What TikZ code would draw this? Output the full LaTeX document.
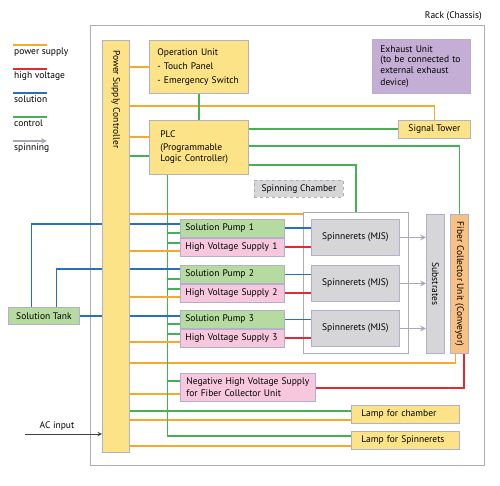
\documentclass[tikz,border=0pt]{standalone}
\usepackage{fontspec}
\setmainfont{PT Sans}
\usepackage{xcolor}
\usetikzlibrary{shapes,arrows,positioning,calc,backgrounds}

\definecolor{yellowc}{HTML}{FDE387}
\definecolor{greenc}{HTML}{B6DBA0}
\definecolor{pinkc}{HTML}{F7C7DD}
\definecolor{grayc}{HTML}{D6D6D8}
\definecolor{purplec}{HTML}{C5AED6}
\definecolor{orangec}{HTML}{F8C184}
\definecolor{boxline}{HTML}{B3B0CC}
\definecolor{pwrc}{HTML}{F7A928}
\definecolor{ctlc}{HTML}{45B152}
\definecolor{solc}{HTML}{2A70B6}
\definecolor{hvc}{HTML}{E02A36}
\definecolor{spnc}{HTML}{A8A9B8}
\definecolor{rackc}{HTML}{ADADAD}

\begin{document}
\begin{tikzpicture}[
    x=1pt, y=-1pt,
    font=\fontsize{9.5}{11.5}\selectfont,
    box/.style={rectangle, draw=boxline, line width=0.8pt, anchor=north west, inner xsep=5pt, inner ysep=0pt, align=center},
    pump/.style={box, fill=greenc, minimum width=104pt, minimum height=18pt, text width=94pt, align=left},
    hvbox/.style={pump, fill=pinkc},
    spinbox/.style={box, fill=grayc, minimum width=88pt, minimum height=36pt},
    lamp/.style={box, fill=yellowc, inner xsep=10pt, text width=88pt, minimum height=18pt, align=left},
    pwr/.style={draw=pwrc, line width=1.8pt},
    ctl/.style={draw=ctlc, line width=1.8pt},
    sol/.style={draw=solc, line width=1.8pt},
    hvl/.style={draw=hvc, line width=1.8pt},
    spn/.style={->, >=stealth, draw=spnc, line width=1.6pt},
    acl/.style={->, >=stealth, draw=black!75, line width=1pt}
]
\useasboundingbox (0,0) rectangle (500,486);

% Rack and chamber
\begin{scope}[on background layer]
\node[box, draw=rackc, line width=1pt, minimum width=394pt, minimum height=440pt,
      label={[anchor=south east, inner sep=0pt, xshift=-3pt, yshift=4pt]north east:Rack (Chassis)}] (rack) at (90,25) {};
\node[box, draw=rackc, line width=1pt, minimum width=105pt, minimum height=141pt] (chamber) at (303,212) {};
\end{scope}

% Legend
\foreach \st/\txt [count=\i] in {pwr/power supply, hvl/high voltage, sol/solution, ctl/control, spn/spinning} {
  \node[anchor=north west, inner sep=0pt] (lg\i) at (14,24*\i+23.5) {\txt};
  \draw[\st] ([xshift=-1pt, yshift=2.5pt]lg\i.north west) -- ++(34,0);
}

% Control side
\node[box, fill=yellowc, minimum width=27pt, minimum height=412pt] (psc) at (102,40) {};
\node[rotate=-90, anchor=west, inner sep=0pt] (psctext) at ([yshift=-10pt]psc.north) {Power Supply Controller};
\node[box, fill=yellowc, inner xsep=8pt, text width=83pt, minimum height=53pt, align=left] (opunit) at (149,40)
  {Operation Unit\\[2.5pt]- Touch Panel\\[2.5pt]- Emergency Switch};
\node[box, fill=yellowc, inner xsep=11pt, text width=77pt, minimum height=54pt, align=left] (plc) at (149,120)
  {PLC\\[1.5pt](Programmable\\Logic Controller)};
\node[box, fill=purplec, inner xsep=8pt, text width=82pt, minimum height=54pt, align=left] (exhaust) at (372,39)
  {\fontsize{9.5}{10.8}\selectfont Exhaust Unit\\(to be connected to\\external exhaust\\device)};
\node[box, fill=yellowc, minimum width=72pt, minimum height=18pt] (sigtower) at (398,120) {Signal Tower};
\node[box, fill=grayc, draw=rackc, dashed, minimum width=89pt, minimum height=17pt] (chlabel) at (254,180) {Spinning Chamber};
\node[box, fill=greenc, minimum width=71pt, minimum height=17pt] (tank) at (8,307) {Solution Tank};

% Spinning line
\node[pump] (pumpA) at (180,219) {Solution Pump 1};
\node[hvbox, below=0pt of pumpA] (hvA) {High Voltage Supply 1};
\node[pump] (pumpB) at (180,265) {Solution Pump 2};
\node[hvbox, below=0pt of pumpB] (hvB) {High Voltage Supply 2};
\node[pump] (pumpC) at (180,310) {Solution Pump 3};
\node[hvbox, below=0pt of pumpC] (hvC) {High Voltage Supply 3};
\node[spinbox] (spinA) at (311,219) {Spinnerets (MJS)};
\node[spinbox] (spinB) at (311,265) {Spinnerets (MJS)};
\node[spinbox] (spinC) at (311,310) {Spinnerets (MJS)};
\node[box, fill=grayc, minimum width=18pt, minimum height=139pt, label={[rotate=-90]center:Substrates}] (subst) at (426,214) {};
\node[box, fill=orangec, minimum width=18pt, minimum height=139pt, label={[rotate=-90]center:Fiber Collector Unit (Conveyor)}] (fcu) at (450,214) {};
\node[box, fill=pinkc, inner xsep=6pt, text width=123pt, minimum height=28pt, align=left] (neghv) at (180,373)
  {Negative High Voltage Supply\\for Fiber Collector Unit};
\node[lamp] (lampA) at (351,405) {Lamp for chamber};
\node[lamp] (lampB) at (351,431) {Lamp for Spinnerets};

% AC input
\coordinate (acin) at (25,434);
\node (aclabel) at (57,426) {AC input};

% Connections
\begin{scope}[on background layer]
% power supply
\draw[pwr] (opunit.west) -- (opunit.west -| psc.east);
\draw[pwr] ($(psc.east |- plc.north)+(0,-14)$) -| (sigtower.north);
\draw[pwr] ($(plc.north west)+(0,17)$) coordinate (t) -- (t -| psc.east);
\draw[pwr] ($(chamber.north west)+(0,2)$) coordinate (t) -- (t -| psc.east);
\draw[pwr] ($(fcu.south)+(-4,0)$) |- ($(psc.east |- fcu.south)+(0,9)$);
\draw[pwr] ($(neghv.south west)+(0,-8)$) coordinate (t) -- (t -| psc.east);
\draw[pwr] ($(lampA.south west)+(0,-4)$) coordinate (t) -- (t -| psc.east);
\draw[pwr] ($(lampB.south west)+(0,-4)$) coordinate (t) -- (t -| psc.east);
% control
\draw[ctl] (opunit.south) -- (plc.north);
\draw[ctl] ($(plc.south west)+(0,-19)$) coordinate (t) -- (t -| psc.east);
\draw[ctl] (plc.east |- sigtower.west) -- (sigtower.west);
\draw[ctl] ($(plc.east)+(0,-1)$) -| (fcu.north);
\draw[ctl] ($(plc.south east)+(0,-10)$) -| (chamber.north);
\coordinate (bus) at ($(plc.south)+(-31.5,0)$);
\draw[ctl] (bus) |- ($(lampB.north west)+(0,5)$);
\draw[ctl] ($(neghv.north west)+(0,8)$) coordinate (t) -- (t -| bus);
\draw[ctl] ($(lampA.north west)+(0,6)$) coordinate (t) -- (t -| psc.east);
% solution
\draw[sol] ($(tank.north)+(-12.5,0)$) |- ($(pumpA.north west)+(0,5)$);
\draw[sol] ($(tank.north)+(12.5,0)$) |- ($(pumpB.north west)+(0,4)$);
\draw[sol] (tank.east) -- (tank.east -| pumpC.west);
% pumps, high voltage and spinning
\foreach \k in {A,B,C} {
  \draw[ctl] ($(pump\k.south west)+(0,-5)$) coordinate (t) -- (t -| bus);
  \draw[ctl] ($(hv\k.north west)+(0,5)$) coordinate (t) -- (t -| bus);
  \draw[pwr] ($(hv\k.south west)+(0,-6)$) coordinate (t) -- (t -| psc.east);
  \draw[sol] (pump\k.east) -- (pump\k.east -| spin\k.west);
  \draw[hvl] (hv\k.east) -- (hv\k.east -| spin\k.west);
  \draw[spn] (spin\k.east) -- (spin\k.east -| subst.west);
}
\draw[hvl] ($(fcu.south)+(4.5,0)$) |- ($(neghv.east)+(0,0.5)$);
\end{scope}
\draw[acl] (acin) -- (acin -| psc.west);

\end{tikzpicture}
\end{document}
